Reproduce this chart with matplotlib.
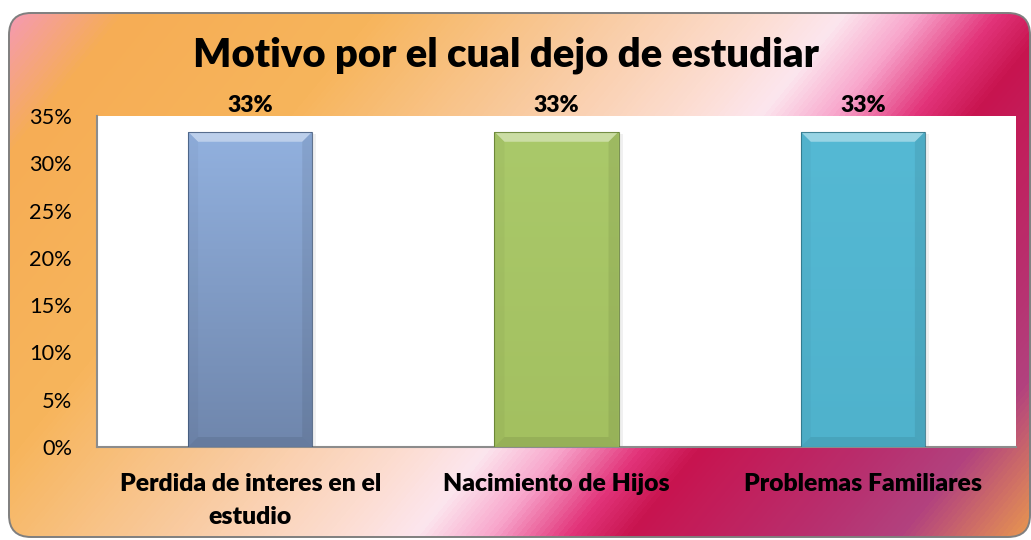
import numpy as np
import matplotlib
matplotlib.use("Agg")
import matplotlib.pyplot as plt
from matplotlib.patches import FancyBboxPatch, Polygon
from matplotlib.colors import LinearSegmentedColormap, to_rgb

# ---------------- data ----------------
categories = ["Perdida de interes en el\nestudio", "Nacimiento de Hijos", "Problemas Familiares"]
values = [1/3, 1/3, 1/3]
labels = ["33%", "33%", "33%"]
yticks = [0, 0.05, 0.10, 0.15, 0.20, 0.25, 0.30, 0.35]
ytick_labels = ["0%", "5%", "10%", "15%", "20%", "25%", "30%", "35%"]
title = "Motivo por el cual dejo de estudiar"

bar_top_colors = ["#92B1DF", "#AAC96A", "#55B9D4"]
bar_bot_colors = ["#6F86AC", "#A3C060", "#4FB2CC"]
bar_edge_colors = ["#3E5577", "#5E7A2E", "#2C6F82"]

FONT = ["Lato", "DejaVu Sans"]

W, H = 1031, 540
fig = plt.figure(figsize=(W / 100, H / 100), dpi=100)
fig.patch.set_facecolor("white")

# ---------------- background (gradient, rounded frame) ----------------
bg = fig.add_axes([0, 0, 1, 1])
bg.set_xlim(0, W)
bg.set_ylim(H, 0)
bg.axis("off")
yy, xx = np.mgrid[0:H, 0:W]
s = (xx + 0.82 * yy) / (W + 0.82 * H)
stops = [
    (0.00, "#F597C2"),
    (0.09, "#F6AD55"),
    (0.26, "#F7B55C"),
    (0.41, "#F9CA9E"),
    (0.52, "#FCDCCF"),
    (0.58, "#FCE6EE"),
    (0.63, "#F8A6CC"),
    (0.685, "#E2347A"),
    (0.725, "#C8144F"),
    (0.85, "#B8306F"),
    (0.91, "#B2427F"),
    (1.00, "#EA9A4E"),
]
cmap_bg = LinearSegmentedColormap.from_list("bg", stops)
img = bg.imshow(cmap_bg(s), extent=(0, W, H, 0), interpolation="bilinear", zorder=0)
frame = FancyBboxPatch((9, 13), 1021, 524, boxstyle="round,pad=0,rounding_size=22",
                       facecolor="none", edgecolor="#7F7F7F", linewidth=1.4, zorder=2)
bg.add_patch(frame)
img.set_clip_path(frame)

# ---------------- plot area ----------------
left, right, top, bottom = 97, 1016, 116, 447
ax = fig.add_axes([left / W, 1 - bottom / H, (right - left) / W, (bottom - top) / H])
ax.set_facecolor("white")
x = np.arange(len(categories))
ax.set_xlim(-0.5, len(categories) - 0.5)
ax.set_ylim(0, 0.35)

bars = ax.bar(x, values, width=0.405, color="none", edgecolor="none", zorder=3)

px_x = (ax.get_xlim()[1] - ax.get_xlim()[0]) / (right - left)
px_y = (ax.get_ylim()[1] - ax.get_ylim()[0]) / (bottom - top)

for i, b in enumerate(bars):
    x0, w, h = b.get_x(), b.get_width(), b.get_height()
    x1 = x0 + w
    # shadow
    ax.add_patch(Polygon([(x0 + 2 * px_x, 0), (x1 + 4 * px_x, 0), (x1 + 4 * px_x, h - 2 * px_y),
                          (x0 + 2 * px_x, h - 2 * px_y)], closed=True,
                         facecolor="#000000", alpha=0.06, edgecolor="none", zorder=2))
    # gradient body
    c_top, c_bot = np.array(to_rgb(bar_top_colors[i])), np.array(to_rgb(bar_bot_colors[i]))
    t = np.linspace(0, 1, 200)[:, None]
    grad = (c_top * (1 - t) + c_bot * t)[:, None, :]
    im = ax.imshow(np.repeat(grad, 2, axis=1), extent=(x0, x1, 0, h), aspect="auto",
                   zorder=3, interpolation="bilinear")
    body = Polygon([(x0, 0), (x1, 0), (x1, h), (x0, h)], closed=True, facecolor="none",
                   edgecolor="none", zorder=3)
    ax.add_patch(body)
    im.set_clip_path(body)
    d_x, d_y = 10 * px_x, 10 * px_y
    # top bevel (light)
    ax.add_patch(Polygon([(x0, h), (x1, h), (x1 - d_x, h - d_y), (x0 + d_x, h - d_y)], closed=True,
                         facecolor="white", alpha=0.4, edgecolor="none", zorder=4))
    # bottom bevel (dark)
    ax.add_patch(Polygon([(x0, 0), (x1, 0), (x1 - d_x, d_y), (x0 + d_x, d_y)], closed=True,
                         facecolor="black", alpha=0.08, edgecolor="none", zorder=4))
    # side bevels
    ax.add_patch(Polygon([(x1, 0), (x1, h), (x1 - d_x, h - d_y), (x1 - d_x, d_y)], closed=True,
                         facecolor="black", alpha=0.07, edgecolor="none", zorder=4))
    ax.add_patch(Polygon([(x0, 0), (x0, h), (x0 + d_x, h - d_y), (x0 + d_x, d_y)], closed=True,
                         facecolor="black", alpha=0.03, edgecolor="none", zorder=4))
    ax.add_patch(Polygon([(x0, 0), (x1, 0), (x1, h), (x0, h)], closed=True, facecolor="none",
                         edgecolor=bar_edge_colors[i], linewidth=0.8, alpha=0.8, zorder=5))
    ax.text(b.get_x() + w / 2, 0.35 + 11 * px_y, labels[i], ha="center", va="center",
            fontsize=16.5, fontweight="heavy", family=FONT, clip_on=False, zorder=6)

ax.set_xticks(x)
ax.set_xticklabels(categories, fontsize=17.8, fontweight="heavy", family=FONT, linespacing=1.58)
for tl in ax.get_xticklabels():
    tl.set_verticalalignment("top")
ax.tick_params(axis="x", length=0, pad=19)
ax.set_yticks(yticks)
ax.set_yticklabels(ytick_labels, fontsize=15.7, family=FONT)
ax.tick_params(axis="y", length=0, pad=18)
for tl in ax.get_yticklabels():
    tl.set_horizontalalignment("right")

for sp in ["top", "right"]:
    ax.spines[sp].set_visible(False)
for sp in ["left", "bottom"]:
    ax.spines[sp].set_color("#8C8C8C")
    ax.spines[sp].set_linewidth(1.5)

fig.text(506 / W, 1 - 55 / H, title, ha="center", va="center", fontsize=28.8,
         fontweight="heavy", family=FONT)

fig.savefig("out.png", dpi=100, facecolor="white")
